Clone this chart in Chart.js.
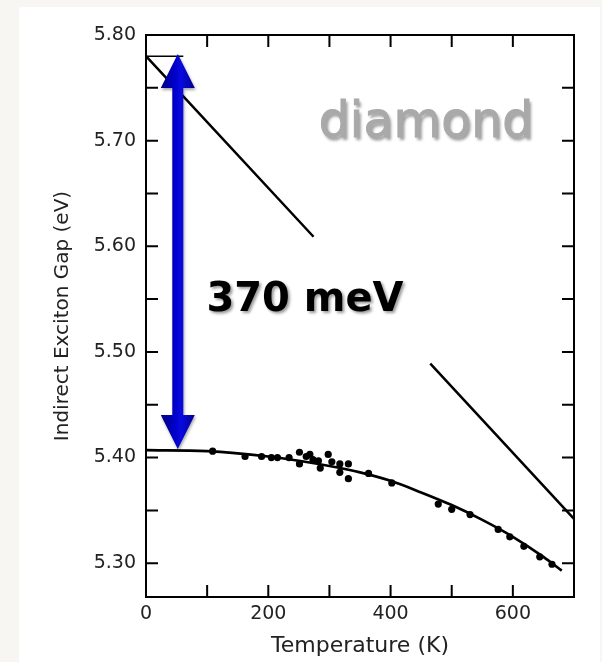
<!DOCTYPE html>
<html lang="en">

<head>
    <meta charset="UTF-8">
    <script src="https://cdn.jsdelivr.net/npm/chart.js"></script>
    <title>Indirect Exciton Gap - diamond</title>
    <style>
        body {
            margin: 0;
            background-color: #f7f6f2;
        }

        .wrap {
            position: relative;
            width: 602px;
            height: 662px;
        }
    </style>
</head>

<body>
    <div class="wrap">
        <canvas id="gapChart"></canvas>
    </div>

    <script>
        // Data
        // straight line (gap hidden behind the label between 273 K and 465 K)
        var lineT = [0, 274, 370, 465, 700];
        var lineE = [5.780, 5.609, null, 5.489, 5.342];

        // short reference mark at the top of the arrow
        var markT = [0, 61];
        var markE = [5.780, 5.780];

        // fitted curve
        var fitT = [0, 100, 200, 250, 300, 350, 400, 450, 500, 550, 600, 650, 680];
        var fitE = [5.407, 5.406, 5.401, 5.397, 5.392, 5.386, 5.378, 5.367, 5.355, 5.341, 5.325, 5.306, 5.293];

        // measured points
        var measT = [109, 162, 189, 205, 215, 234, 251, 251, 262, 268, 273, 282, 285, 298, 304, 317, 317, 331, 331, 364,
            402, 478, 500, 530, 576, 595, 618, 644, 664];
        var measE = [5.406, 5.401, 5.401, 5.400, 5.400, 5.400, 5.405, 5.394, 5.401, 5.403, 5.398, 5.397, 5.390, 5.403, 5.396, 5.394, 5.386, 5.394, 5.380, 5.385,
            5.376, 5.356, 5.351, 5.346, 5.332, 5.325, 5.316, 5.306, 5.299];

        // the 370 meV arrow
        var arrowT = 52;
        var arrowTop = 5.782;
        var arrowBottom = 5.408;

        // ticks
        var xTicks = [0, 100, 200, 300, 400, 500, 600, 700];
        var yTicks = [5.30, 5.35, 5.40, 5.45, 5.50, 5.55, 5.60, 5.65, 5.70, 5.75, 5.80];

        function pairs(xs, ys) {
            return xs.map(function (x, i) { return { x: x, y: ys[i] }; });
        }

        // page background and white panel
        var backgroundPlugin = {
            id: 'background',
            beforeDraw: function (chart) {
                var ctx = chart.ctx;
                ctx.save();
                ctx.fillStyle = '#f7f6f2';
                ctx.fillRect(0, 0, chart.width, chart.height);
                ctx.fillStyle = '#ffffff';
                ctx.fillRect(19, 7, 581, chart.height - 7);
                ctx.restore();
            }
        };

        // box frame with inward ticks on all four sides
        var framePlugin = {
            id: 'frame',
            afterDatasetsDraw: function (chart) {
                var ctx = chart.ctx;
                var a = chart.chartArea;
                var xs = chart.scales.x, ys = chart.scales.y;
                var len = 12;
                ctx.save();
                ctx.strokeStyle = '#000';
                ctx.lineWidth = 2;
                ctx.strokeRect(a.left, a.top, a.right - a.left, a.bottom - a.top);
                ctx.beginPath();
                xTicks.forEach(function (v) {
                    var px = xs.getPixelForValue(v);
                    ctx.moveTo(px, a.bottom);
                    ctx.lineTo(px, a.bottom - len);
                    ctx.moveTo(px, a.top);
                    ctx.lineTo(px, a.top + len);
                });
                yTicks.forEach(function (v) {
                    var py = ys.getPixelForValue(v);
                    ctx.moveTo(a.left, py);
                    ctx.lineTo(a.left + len, py);
                    ctx.moveTo(a.right, py);
                    ctx.lineTo(a.right - len, py);
                });
                ctx.stroke();
                ctx.restore();
            }
        };

        // blue double arrow and the two text labels
        var annotationPlugin = {
            id: 'annotations',
            afterDraw: function (chart) {
                var ctx = chart.ctx;
                var xs = chart.scales.x, ys = chart.scales.y;
                var x = xs.getPixelForValue(arrowT);
                var yT = ys.getPixelForValue(arrowTop);
                var yB = ys.getPixelForValue(arrowBottom);
                var shaft = 5.5, head = 17, headH = 34;

                ctx.save();
                var grad = ctx.createLinearGradient(x - head, 0, x + head, 0);
                grad.addColorStop(0, '#000080');
                grad.addColorStop(0.4, '#0000c8');
                grad.addColorStop(0.6, '#0a0ae0');
                grad.addColorStop(1, '#000090');
                ctx.shadowColor = 'rgba(0,0,0,0.35)';
                ctx.shadowBlur = 3;
                ctx.shadowOffsetX = 1;
                ctx.shadowOffsetY = 2;
                ctx.fillStyle = grad;
                ctx.beginPath();
                ctx.moveTo(x, yT);
                ctx.lineTo(x + head, yT + headH);
                ctx.lineTo(x + shaft, yT + headH);
                ctx.lineTo(x + shaft, yB - headH);
                ctx.lineTo(x + head, yB - headH);
                ctx.lineTo(x, yB);
                ctx.lineTo(x - head, yB - headH);
                ctx.lineTo(x - shaft, yB - headH);
                ctx.lineTo(x - shaft, yT + headH);
                ctx.lineTo(x - head, yT + headH);
                ctx.closePath();
                ctx.fill();
                ctx.restore();

                // "370 meV"
                ctx.save();
                ctx.font = 'bold 40px "DejaVu Sans"';
                ctx.textAlign = 'center';
                ctx.textBaseline = 'alphabetic';
                ctx.shadowColor = 'rgba(0,0,0,0.4)';
                ctx.shadowBlur = 3;
                ctx.shadowOffsetX = 2;
                ctx.shadowOffsetY = 2;
                ctx.fillStyle = '#000';
                ctx.fillText('370 meV', xs.getPixelForValue(260), ys.getPixelForValue(5.5386));
                ctx.restore();

                // "diamond"
                ctx.save();
                ctx.font = '49px "DejaVu Sans"';
                ctx.textAlign = 'center';
                ctx.textBaseline = 'alphabetic';
                ctx.shadowColor = 'rgba(0,0,0,0.4)';
                ctx.shadowBlur = 3;
                ctx.shadowOffsetX = 2;
                ctx.shadowOffsetY = 3;
                ctx.fillStyle = '#a9a9a9';
                ctx.strokeStyle = '#a9a9a9';
                ctx.lineWidth = 1;
                var dx = xs.getPixelForValue(458), dy = ys.getPixelForValue(5.7037);
                ctx.fillText('diamond', dx, dy);
                ctx.shadowColor = 'transparent';
                ctx.strokeText('diamond', dx, dy);
                ctx.restore();
            }
        };

        var tickFont = { family: 'DejaVu Sans', size: 19 };

        var ctx = document.getElementById('gapChart').getContext('2d');
        var gapChart = new Chart(ctx, {
            type: 'scatter',
            data: {
                datasets: [{
                    label: 'linear',
                    data: pairs(lineT, lineE),
                    showLine: true,
                    borderColor: '#000',
                    borderWidth: 2.5,
                    pointRadius: 0,
                    spanGaps: false
                }, {
                    label: 'mark',
                    data: pairs(markT, markE),
                    showLine: true,
                    borderColor: '#000',
                    borderWidth: 1.5,
                    pointRadius: 0
                }, {
                    label: 'fit',
                    data: pairs(fitT, fitE),
                    showLine: true,
                    borderColor: '#000',
                    borderWidth: 2.7,
                    pointRadius: 0,
                    cubicInterpolationMode: 'monotone'
                }, {
                    label: 'measured',
                    data: pairs(measT, measE),
                    showLine: false,
                    pointRadius: 3.6,
                    pointBorderWidth: 0,
                    pointBackgroundColor: '#000'
                }]
            },
            options: {
                responsive: true,
                maintainAspectRatio: false,
                animation: false,
                layout: { padding: { left: 0, top: 35, right: 28, bottom: 0 } },
                plugins: {
                    legend: { display: false },
                    tooltip: { enabled: false }
                },
                scales: {
                    x: {
                        type: 'linear',
                        min: 0,
                        max: 700,
                        grid: { display: false, drawTicks: false },
                        border: { display: false },
                        afterBuildTicks: function (s) {
                            s.ticks = xTicks.map(function (v) { return { value: v }; });
                        },
                        afterFit: function (s) { s.height = 65; },
                        ticks: {
                            autoSkip: false,
                            maxRotation: 0,
                            padding: 6,
                            color: '#222',
                            font: tickFont,
                            callback: function (v) { return v % 200 === 0 ? String(v) : ''; }
                        },
                        title: {
                            display: true,
                            text: 'Temperature (K)',
                            color: '#222',
                            font: { family: 'DejaVu Sans', size: 22 },
                            padding: { top: 0, bottom: 3 }
                        }
                    },
                    y: {
                        type: 'linear',
                        min: 5.268,
                        max: 5.80,
                        grid: { display: false, drawTicks: false },
                        border: { display: false },
                        afterBuildTicks: function (s) {
                            s.ticks = yTicks.map(function (v) { return { value: v }; });
                        },
                        afterFit: function (s) { s.width = 146; },
                        ticks: {
                            autoSkip: false,
                            padding: 10,
                            color: '#222',
                            font: tickFont,
                            callback: function (v) {
                                var t = Math.round(v * 100);
                                return t % 10 === 0 ? (t / 100).toFixed(2) : '';
                            }
                        },
                        title: {
                            display: true,
                            text: 'Indirect Exciton Gap (eV)',
                            color: '#222',
                            font: { family: 'DejaVu Sans', size: 20 },
                            padding: { top: 51, bottom: 0 }
                        }
                    }
                }
            },
            plugins: [backgroundPlugin, framePlugin, annotationPlugin]
        });
    </script>
</body>

</html>
